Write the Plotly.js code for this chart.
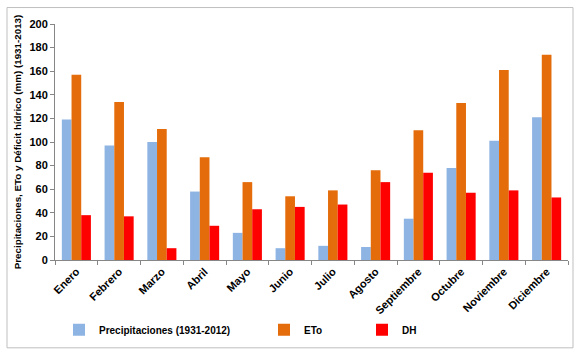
<!DOCTYPE html>
<html>
<head>
<meta charset="utf-8">
<script src="https://cdn.plot.ly/plotly-3.0.1.min.js"></script>
<style>html,body{margin:0;padding:0;background:#fff;}#chart{width:581px;height:357px;}</style>
</head>
<body>
<div id="chart"></div>
<script>
const months = ["Enero","Febrero","Marzo","Abril","Mayo","Junio","Julio","Agosto","Septiembre","Octubre","Noviembre","Diciembre"];
const precipitaciones = [119, 97, 100, 58, 23, 10, 12, 11, 35, 78, 101, 121];
const eto = [157, 134, 111, 87, 66, 54, 59, 76, 110, 133, 161, 174];
const dh = [38, 37, 10, 29, 43, 45, 47, 66, 74, 57, 59, 53];
const seriesNames = ["Precipitaciones (1931-2012)", "ETo", "DH"];
const yTitle = "Precipitaciones, ETo y Déficit hídrico (mm) (1931-2013)";

const FONT = "'Liberation Sans Narrow', 'Arial Narrow', 'Liberation Sans', Arial, sans-serif";

const traces = [
  {type:"bar", name:seriesNames[0], x:months, y:precipitaciones, marker:{color:"#8EB4E3"}, legend:"legend"},
  {type:"bar", name:seriesNames[1], x:months, y:eto, marker:{color:"#E46C0A"}, legend:"legend2"},
  {type:"bar", name:seriesNames[2], x:months, y:dh, marker:{color:"#FF0000"}, legend:"legend3"}
];

const legendBase = {orientation:"h", yanchor:"middle", y:-0.296, xanchor:"left",
  font:{family:FONT, size:10, color:"#000", weight:"bold"}, bgcolor:"rgba(0,0,0,0)", itemwidth:30};

const layout = {
  width:581, height:357,
  margin:{l:55, r:13, t:23.5, b:97},
  paper_bgcolor:"#fff", plot_bgcolor:"#fff",
  font:{family:FONT, color:"#000"},
  barmode:"group", bargap:0.32, bargroupgap:0,
  showlegend:true,
  legend:Object.assign({}, legendBase, {x:(59-55)/513}),
  legend2:Object.assign({}, legendBase, {x:(264-55)/513}),
  legend3:Object.assign({}, legendBase, {x:(362-55)/513}),
  xaxis:{
    type:"category", showgrid:false, zeroline:false,
    showline:true, linecolor:"#868686", linewidth:1,
    ticks:"outside", tickson:"boundaries", ticklen:4, tickcolor:"#868686",
    tickangle:-45, tickfont:{family:FONT, size:11, color:"#000", weight:"bold"}
  },
  yaxis:{
    range:[0,200], dtick:20, showgrid:false, zeroline:false,
    showline:true, linecolor:"#868686", linewidth:1,
    ticks:"outside", ticklen:4, tickcolor:"#868686",
    tickfont:{family:FONT, size:11, color:"#000", weight:"bold"},
    title:{text:yTitle, font:{family:FONT, size:9.8, color:"#000", weight:"bold"}, standoff:6}
  },
  shapes:[{type:"rect", xref:"paper", yref:"paper",
    x0:(7-55)/513, x1:(573-55)/513, y0:(260-348)/236.5, y1:(260-7)/236.5,
    line:{color:"#BFBFBF", width:1}, fillcolor:"rgba(0,0,0,0)", layer:"below"}]
};

Plotly.newPlot("chart", traces, layout, {displayModeBar:false, staticPlot:true});
</script>
</body>
</html>
